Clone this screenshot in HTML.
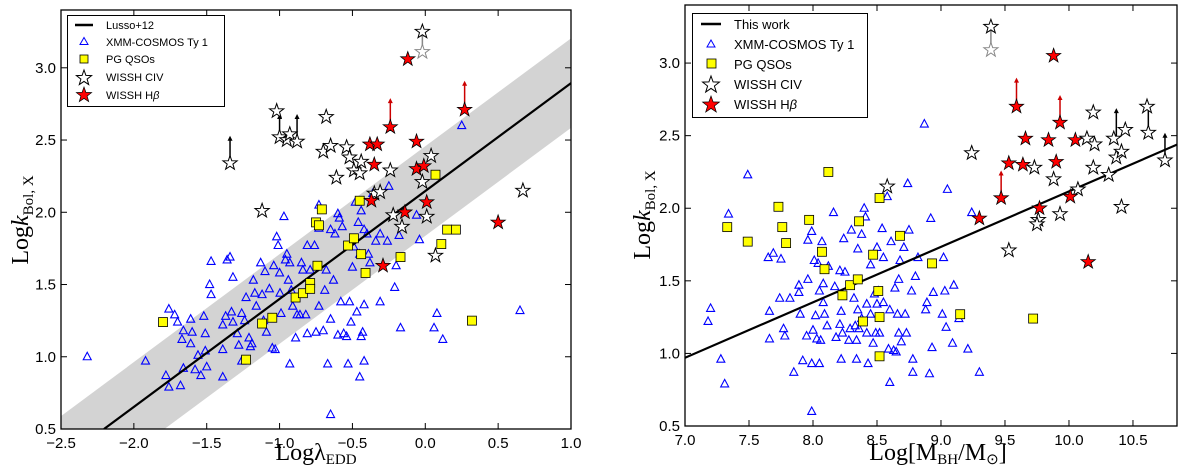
<!DOCTYPE html>
<html><head><meta charset="utf-8"><style>
html,body{margin:0;padding:0;background:#fff;width:1200px;height:476px;overflow:hidden;position:relative}
svg{display:block}
.tick{font-family:"Liberation Sans","DejaVu Sans",sans-serif}
.leg text{font-family:"Liberation Sans","DejaVu Sans",sans-serif}
</style></head><body>
<svg id="chart" width="1200" height="476" xmlns="http://www.w3.org/2000/svg"></svg>
<script>
// ---------- LEFT PANEL DATA (Log lambda_EDD vs Log k_Bol,X) ----------
const leftXmm=[[-2.32,1.00],[-1.92,0.97],[-1.78,0.87],[-1.76,0.79],[-1.68,0.80],[-1.76,1.33],[-1.72,1.29],[-1.70,1.24],[-1.66,1.18],[-1.61,1.26],[-1.60,1.17],[-1.67,1.12],[-1.61,1.09],[-1.66,0.92],[-1.58,0.91],[-1.56,1.01],[-1.54,0.87],[-1.51,1.04],[-1.50,0.93],[-1.52,1.28],[-1.51,1.16],[-1.47,1.66],[-1.48,1.50],[-1.47,1.43],[-1.39,1.05],[-1.39,0.86],[-1.39,1.22],[-1.37,1.28],[-1.36,1.67],[-1.34,1.69],[-1.32,1.55],[-1.33,1.31],[-1.32,1.24],[-1.29,1.16],[-1.28,1.08],[-1.26,1.30],[-1.24,1.25],[-1.23,1.41],[-1.21,1.13],[-1.20,1.07],[-1.19,1.09],[-1.26,0.97],[-1.18,1.53],[-1.17,1.44],[-1.16,1.35],[-1.13,1.65],[-1.12,1.43],[-1.11,1.25],[-1.10,1.59],[-1.09,1.17],[-1.07,1.47],[-1.05,1.06],[-1.04,1.63],[-1.03,1.05],[-1.02,1.83],[-1.01,1.77],[-1.00,1.58],[-0.997,1.44],[-0.99,1.30],[-0.97,1.97],[-0.96,1.67],[-0.95,1.71],[-0.94,1.53],[-0.93,1.65],[-0.92,1.46],[-0.93,0.95],[-0.91,1.35],[-0.89,1.13],[-0.88,1.29],[-0.86,1.29],[-0.85,1.65],[-0.84,1.60],[-0.82,1.29],[-0.81,1.77],[-0.81,1.16],[-0.79,1.60],[-0.76,1.77],[-0.75,1.17],[-0.73,2.05],[-0.73,1.89],[-0.73,1.35],[-0.70,1.18],[-0.69,1.46],[-0.68,1.60],[-0.67,0.95],[-0.65,1.88],[-0.65,1.26],[-0.63,1.53],[-0.62,1.85],[-0.60,1.15],[-0.60,1.99],[-0.59,1.96],[-0.58,1.38],[-0.57,1.90],[-0.56,1.16],[-0.54,1.14],[-0.53,0.95],[-0.52,1.38],[-0.51,1.24],[-0.50,1.62],[-0.49,1.76],[-0.48,2.07],[-0.47,1.31],[-0.46,1.93],[-0.45,1.71],[-0.45,0.86],[-0.44,2.01],[-0.44,1.14],[-0.43,1.17],[-0.42,1.88],[-0.42,0.97],[-0.42,1.36],[-0.40,1.85],[-0.39,1.71],[-0.38,1.65],[-0.36,2.13],[-0.34,1.80],[-0.31,1.38],[-0.31,1.85],[-0.26,1.80],[-0.25,2.18],[-0.21,1.48],[-0.20,1.63],[-0.18,1.84],[-0.17,1.20],[-0.06,1.98],[-0.04,1.81],[0.06,1.20],[0.08,1.30],[0.12,1.12],[0.25,2.60],[0.65,1.32],[-0.65,0.60]];
const leftPg=[[-1.80,1.24],[-1.23,0.98],[-1.12,1.23],[-1.05,1.27],[-0.89,1.41],[-0.84,1.44],[-0.79,1.51],[-0.79,1.47],[-0.74,1.63],[-0.75,1.93],[-0.73,1.91],[-0.71,2.02],[-0.53,1.77],[-0.49,1.82],[-0.45,2.08],[-0.44,1.71],[-0.41,1.58],[-0.17,1.69],[0.07,2.26],[0.11,1.78],[0.15,1.88],[0.21,1.88],[0.32,1.25]];
const leftCiv=[[-1.34,2.34],[-1.12,2.01],[-1.02,2.70],[-1.00,2.52],[-0.95,2.50],[-0.93,2.54],[-0.88,2.49],[-0.68,2.66],[-0.70,2.42],[-0.65,2.46],[-0.61,2.24],[-0.54,2.45],[-0.52,2.38],[-0.49,2.29],[-0.45,2.27],[-0.44,2.35],[-0.35,2.13],[-0.31,2.14],[-0.24,2.29],[-0.22,1.98],[-0.16,1.90],[-0.02,2.21],[0.01,1.97],[0.04,2.39],[0.07,1.70],[0.67,2.15],[-0.02,3.25]];
const leftCivGray=[[-0.02,3.11]];
const leftHb=[[-0.12,3.06],[0.27,2.71],[-0.24,2.59],[-0.38,2.47],[-0.33,2.47],[-0.06,2.49],[-0.35,2.33],[-0.06,2.30],[-0.01,2.32],[0.01,2.07],[-0.37,2.08],[-0.14,2.00],[-0.29,1.63],[0.50,1.93]];
const leftArrowsBlack=[[-1.34,2.34,2.53],[-1.00,2.52,2.68],[-0.88,2.49,2.68]];
const leftArrowsRed=[[0.27,2.71,2.91],[-0.24,2.59,2.79]];
const leftArrowsGray=[[-0.02,3.11,3.25]];
const leftFit=[0.747,2.147,0.31];
const leftXTicks=[-2.5,-2.0,-1.5,-1.0,-0.5,0.0,0.5,1.0];
const yTicks=[0.5,1.0,1.5,2.0,2.5,3.0];
// ---------- RIGHT PANEL DATA ----------
const rightXmm=[[7.18,1.22],[7.20,1.31],[7.28,0.96],[7.31,0.79],[7.34,1.96],[7.49,2.23],[7.65,1.66],[7.69,1.69],[7.66,1.29],[7.66,1.10],[7.74,1.38],[7.75,1.65],[7.77,1.17],[7.78,1.12],[7.82,1.38],[7.85,0.87],[7.89,1.47],[7.89,1.42],[7.90,1.27],[7.92,0.95],[7.95,1.12],[7.96,1.51],[7.96,1.78],[7.99,0.93],[7.99,0.60],[7.99,1.84],[8.00,1.16],[8.01,1.64],[8.02,1.26],[8.03,1.10],[8.04,1.62],[8.05,0.93],[8.05,1.43],[8.06,1.09],[8.07,1.77],[8.08,1.48],[8.08,1.35],[8.09,1.27],[8.11,1.19],[8.12,1.60],[8.16,1.97],[8.17,1.46],[8.18,1.11],[8.21,1.20],[8.21,1.57],[8.22,0.96],[8.22,1.29],[8.23,1.14],[8.24,1.79],[8.25,1.56],[8.28,1.09],[8.29,1.17],[8.30,1.85],[8.32,1.38],[8.33,1.19],[8.34,0.96],[8.34,1.09],[8.35,1.72],[8.35,1.30],[8.36,1.17],[8.38,1.24],[8.38,1.82],[8.40,2.00],[8.41,1.94],[8.42,1.34],[8.42,1.14],[8.43,0.93],[8.45,1.61],[8.45,1.27],[8.47,1.07],[8.48,1.41],[8.49,1.14],[8.50,1.34],[8.50,1.73],[8.51,1.43],[8.52,1.14],[8.54,1.86],[8.55,1.66],[8.55,1.35],[8.58,2.08],[8.59,1.03],[8.60,0.80],[8.60,1.30],[8.61,1.77],[8.63,1.02],[8.64,1.45],[8.65,1.01],[8.66,1.27],[8.67,1.51],[8.67,1.14],[8.68,1.64],[8.69,1.08],[8.71,1.73],[8.72,1.27],[8.73,1.14],[8.74,2.17],[8.75,1.85],[8.77,1.43],[8.78,0.96],[8.78,0.87],[8.80,1.53],[8.82,1.66],[8.87,2.58],[8.88,1.30],[8.89,1.35],[8.91,0.86],[8.92,1.93],[8.93,1.04],[8.94,1.42],[9.01,1.27],[9.02,1.66],[9.03,1.43],[9.04,1.18],[9.05,2.13],[9.09,1.07],[9.10,1.47],[9.14,1.24],[9.21,1.03],[9.24,1.97],[9.30,0.87]];
const rightPg=[[7.33,1.87],[7.49,1.77],[7.73,2.01],[7.76,1.87],[7.79,1.76],[7.97,1.92],[8.07,1.70],[8.09,1.58],[8.12,2.25],[8.23,1.40],[8.29,1.47],[8.35,1.51],[8.36,1.91],[8.39,1.22],[8.47,1.68],[8.51,1.43],[8.52,2.07],[8.52,1.25],[8.52,0.98],[8.68,1.81],[8.93,1.62],[9.15,1.27],[9.72,1.24]];
const rightCiv=[[8.58,2.15],[9.24,2.38],[9.53,1.71],[9.73,2.28],[9.76,1.92],[9.75,1.89],[9.88,2.20],[9.93,1.96],[10.07,2.13],[10.14,2.48],[10.19,2.66],[10.19,2.28],[10.20,2.44],[10.31,2.23],[10.35,2.48],[10.37,2.35],[10.41,2.39],[10.44,2.54],[10.41,2.01],[10.61,2.70],[10.62,2.52],[10.75,2.33],[9.39,3.25]];
const rightCivGray=[[9.39,3.09]];
const rightHb=[[9.30,1.93],[9.47,2.07],[9.53,2.31],[9.59,2.70],[9.64,2.30],[9.66,2.48],[9.77,2.00],[9.84,2.47],[9.88,3.05],[9.90,2.32],[9.93,2.59],[10.01,2.08],[10.05,2.47],[10.15,1.63]];
const rightArrowsBlack=[[10.37,2.48,2.69],[10.62,2.52,2.72],[10.75,2.33,2.52]];
const rightArrowsRed=[[9.47,2.07,2.26],[9.59,2.70,2.90],[9.93,2.59,2.78]];
const rightArrowsGray=[[9.39,3.09,3.25]];
const rightFit=[0.382,-1.704];
const rightXTicks=[7.0,7.5,8.0,8.5,9.0,9.5,10.0,10.5];

const NS='http://www.w3.org/2000/svg';
const svg=document.getElementById('chart');
function mk(tag,attrs,parent){const e=document.createElementNS(NS,tag);for(const k in attrs)e.setAttribute(k,attrs[k]);(parent||svg).appendChild(e);return e;}
function starPts(cx,cy,r){let p=[];for(let i=0;i<10;i++){const rr=i%2?r*0.4:r;const a=-Math.PI/2+i*Math.PI/5;p.push((cx+rr*Math.cos(a)).toFixed(1)+','+(cy+rr*Math.sin(a)).toFixed(1));}return p.join(' ');}

function panel(cfg){
  const g=mk('g',{});
  
  
  const sx=v=>cfg.x0+(v-cfg.xmin)/(cfg.xmax-cfg.xmin)*(cfg.x1-cfg.x0);
  const sy=v=>cfg.y1-(v-cfg.ymin)/(cfg.ymax-cfg.ymin)*(cfg.y1-cfg.y0);
  const clip='clip-'+cfg.name;
  const cp=mk('clipPath',{id:clip},g);mk('rect',{x:cfg.x0,y:cfg.y0,width:cfg.x1-cfg.x0,height:cfg.y1-cfg.y0},cp);
  const pg=mk('g',{'clip-path':'url(#'+clip+')'},g);
  
  
  const [m,b]=cfg.fit;
  if(cfg.band){
    const w=cfg.fit[2];const xa=cfg.xmin,xb=cfg.xmax;
    const xl=Math.max(xa,(cfg.ymin-b+w)/m);
    const yu=Math.min(cfg.ymax,m*xb+b+w);
    const pts=[[xa,m*xa+b+w],[(yu-b-w)/m,yu],[xb,yu],[xb,m*xb+b-w],[xl,cfg.ymin],[xa,cfg.ymin]];
    const band=mk('polygon',{points:pts.map(p=>sx(p[0])+','+sy(p[1])).join(' '),fill:'#d3d3d3'},pg);
    
    
  }
  cfg.xmm.forEach(d=>{const x=sx(d[0]),y=sy(d[1]);
    const t=mk('polygon',{points:`${x},${y-4.5} ${x-4},${y+3} ${x+4},${y+3}`,fill:'none',stroke:'#0000ff','stroke-width':1.1},pg);
    
    });
  const lx0=Math.max(cfg.xmin,(cfg.ymin-b)/m);
  const ln=mk('line',{x1:sx(lx0),y1:sy(m*lx0+b),x2:sx(cfg.xmax),y2:sy(m*cfg.xmax+b),stroke:'#000','stroke-width':2.2},pg);
  
  
  cfg.pg.forEach(d=>{const x=sx(d[0]),y=sy(d[1]);
    const s=mk('rect',{x:x-4.5,y:y-4.5,width:9,height:9,fill:'#ffff00',stroke:'#000','stroke-width':0.8},pg);
    
    });
  const arrows=(arr,col)=>arr.forEach(a=>{const x=sx(a[0]),ya=sy(a[1]),yb=sy(a[2]);
    const l=mk('line',{x1:x,y1:ya,x2:x,y2:yb+3,stroke:col,'stroke-width':1.5},pg);
    
    
    mk('polygon',{points:`${x},${yb} ${x-2.5},${yb+5} ${x+2.5},${yb+5}`,fill:col},pg);});
  arrows(cfg.arrK,'#000');arrows(cfg.arrR,'#cc0000');arrows(cfg.arrG,'#888');
  cfg.civ.forEach(d=>{const s=mk('polygon',{points:starPts(sx(d[0]),sy(d[1]),7.5),fill:'#fff',stroke:'#000','stroke-width':1},pg);
    
    });
  cfg.civG.forEach(d=>{const s=mk('polygon',{points:starPts(sx(d[0]),sy(d[1]),7.5),fill:'#fff',stroke:'#888','stroke-width':1},pg);
    
    });
  cfg.hb.forEach(d=>{const s=mk('polygon',{points:starPts(sx(d[0]),sy(d[1]),7.5),fill:'#ff0000',stroke:'#000','stroke-width':0.8},pg);
    
    });
  mk('rect',{x:cfg.x0,y:cfg.y0,width:cfg.x1-cfg.x0,height:cfg.y1-cfg.y0,fill:'none',stroke:'#000','stroke-width':1.3},g);
  cfg.xt.forEach(v=>{const x=sx(v);
    mk('line',{x1:x,y1:cfg.y1,x2:x,y2:cfg.y1-6,stroke:'#000'},g);
    mk('line',{x1:x,y1:cfg.y0,x2:x,y2:cfg.y0+6,stroke:'#000'},g);
    const t=mk('text',{x:x,y:cfg.y1+19,'text-anchor':'middle','font-size':15,'class':'tick'},g);t.textContent=v.toFixed(1).replace('-','\u2212');
    
    });
  cfg.yt.forEach(v=>{const y=sy(v);
    mk('line',{x1:cfg.x0,y1:y,x2:cfg.x0+6,y2:y,stroke:'#000'},g);
    mk('line',{x1:cfg.x1,y1:y,x2:cfg.x1-6,y2:y,stroke:'#000'},g);
    const t=mk('text',{x:cfg.x0-5,y:y+5,'text-anchor':'end','font-size':15,'class':'tick'},g);t.textContent=v.toFixed(1);
    
    });
}
panel({name:'left-panel',x0:61,x1:571,y0:10,y1:429,xmin:-2.5,xmax:1.0,ymin:0.5,ymax:3.4,band:true,fit:leftFit,
  xmm:leftXmm,pg:leftPg,civ:leftCiv,civG:leftCivGray,hb:leftHb,arrK:leftArrowsBlack,arrR:leftArrowsRed,arrG:leftArrowsGray,xt:leftXTicks,yt:yTicks});
panel({name:'right-panel',x0:685,x1:1177,y0:5,y1:426,xmin:7.0,xmax:10.844,ymin:0.5,ymax:3.4,band:false,fit:rightFit,
  xmm:rightXmm,pg:rightPg,civ:rightCiv,civG:rightCivGray,hb:rightHb,arrK:rightArrowsBlack,arrR:rightArrowsRed,arrG:rightArrowsGray,xt:rightXTicks,yt:yTicks});
</script>
<svg style="position:absolute;left:0;top:0" width="1200" height="476" xmlns="http://www.w3.org/2000/svg">
 <g class="leg" font-size="11">
  <rect x="67.5" y="15.5" width="157" height="91" fill="#fff" stroke="#000" stroke-width="1"/>
  <line x1="75" y1="25" x2="93" y2="25" stroke="#000" stroke-width="2.5"/>
  <text x="106" y="29">Lusso+12</text>
  <polygon points="84,37.5 80,44.5 88,44.5" fill="none" stroke="#00f"/>
  <text x="106" y="46">XMM-COSMOS Ty 1</text>
  <rect x="80" y="55" width="8" height="8" fill="#ff0" stroke="#000" stroke-width="0.8"/>
  <text x="106" y="63">PG QSOs</text>
  <polygon points="84,70 85.9,75.4 91.6,75.6 87.1,79.1 88.7,84.6 84,81.4 79.3,84.6 80.9,79.1 76.4,75.6 82.1,75.4" fill="#fff" stroke="#000"/>
  <text x="106" y="81">WISSH CIV</text>
  <polygon points="84,87 85.9,92.4 91.6,92.6 87.1,96.1 88.7,101.6 84,98.4 79.3,101.6 80.9,96.1 76.4,92.6 82.1,92.4" fill="#f00" stroke="#000" stroke-width="0.7"/>
  <text x="106" y="99">WISSH H<tspan font-style="italic">β</tspan></text>
 </g>
 <g class="leg" font-size="13">
  <rect x="692.5" y="13.5" width="175" height="104" fill="#fff" stroke="#000" stroke-width="1"/>
  <line x1="701" y1="24" x2="721" y2="24" stroke="#000" stroke-width="2.5"/>
  <text x="734" y="29">This work</text>
  <polygon points="711,40 707,47 715,47" fill="none" stroke="#00f"/>
  <text x="734" y="49">XMM-COSMOS Ty 1</text>
  <rect x="707" y="59" width="9" height="9" fill="#ff0" stroke="#000" stroke-width="0.8"/>
  <text x="734" y="69">PG QSOs</text>
  <polygon points="711,76 713.1,81.9 719.4,82.1 714.4,86 716.3,92 711,88.4 705.7,92 707.6,86 702.6,82.1 708.9,81.9" fill="#fff" stroke="#000"/>
  <text x="734" y="89">WISSH CIV</text>
  <polygon points="711,96 713.1,101.9 719.4,102.1 714.4,106 716.3,112 711,108.4 705.7,112 707.6,106 702.6,102.1 708.9,101.9" fill="#f00" stroke="#000" stroke-width="0.7"/>
  <text x="734" y="109">WISSH H<tspan font-style="italic">β</tspan></text>
 </g>
 <g font-size="24">
  <text style="font-family:'Liberation Serif',serif" x="316" y="460" text-anchor="middle">Logλ<tspan font-size="15" dy="4">EDD</tspan></text>
  <text style="font-family:'Liberation Serif',serif" transform="translate(28,220) rotate(-90)" text-anchor="middle">Log<tspan font-style="italic">k</tspan><tspan font-size="15" dy="5">Bol, X</tspan></text>
  <text style="font-family:'Liberation Serif',serif" x="938" y="460" text-anchor="middle">Log[M<tspan font-size="15" dy="4">BH</tspan><tspan dy="-4">/M</tspan><tspan font-size="15" dy="4">⊙</tspan><tspan dy="-4">]</tspan></text>
  <text style="font-family:'Liberation Serif',serif" transform="translate(650,215) rotate(-90)" text-anchor="middle">Log<tspan font-style="italic">k</tspan><tspan font-size="15" dy="5">Bol, X</tspan></text>
 </g>
</svg>
</body></html>
